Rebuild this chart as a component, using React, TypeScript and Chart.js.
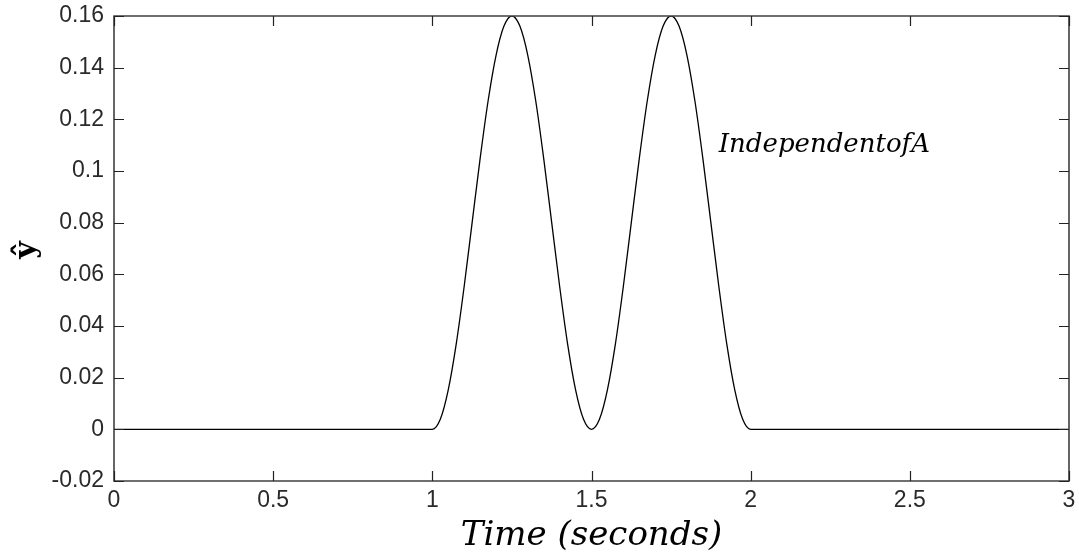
import React, { useEffect, useRef } from "react";
import { Chart, registerables } from "chart.js";

Chart.register(...registerables);

// Time samples (seconds)
const timeValues: number[] = [
  0, 1,
  1.025, 1.05, 1.075, 1.1, 1.125, 1.15, 1.175, 1.2, 1.225, 1.25,
  1.275, 1.3, 1.325, 1.35, 1.375, 1.4, 1.425, 1.45, 1.475, 1.5,
  1.525, 1.55, 1.575, 1.6, 1.625, 1.65, 1.675, 1.7, 1.725, 1.75,
  1.775, 1.8, 1.825, 1.85, 1.875, 1.9, 1.925, 1.95, 1.975, 2,
  3,
];

// y-hat values
const yHatValues: number[] = [
  0, 0,
  0.0039, 0.0153, 0.033, 0.0553, 0.08, 0.1047, 0.127, 0.1447, 0.1561, 0.16,
  0.1561, 0.1447, 0.127, 0.1047, 0.08, 0.0553, 0.033, 0.0153, 0.0039, 0,
  0.0039, 0.0153, 0.033, 0.0553, 0.08, 0.1047, 0.127, 0.1447, 0.1561, 0.16,
  0.1561, 0.1447, 0.127, 0.1047, 0.08, 0.0553, 0.033, 0.0153, 0.0039, 0,
  0,
];

const xTickValues: number[] = [0, 0.5, 1, 1.5, 2, 2.5, 3];
const yTickValues: number[] = [-0.02, 0, 0.02, 0.04, 0.06, 0.08, 0.1, 0.12, 0.14, 0.16];

const xAxisTitle = "Time (seconds)";
const yAxisTitle = "ŷ";
const annotationText = "IndependentofA";
const annotationX = 1.9;
const annotationY = 0.11;

const framePlugin = {
  id: "matlabFrame",
  afterDraw(chart: any) {
    const { ctx, chartArea } = chart;
    const xs = chart.scales.x;
    const ys = chart.scales.y;
    const { left, right, top, bottom } = chartArea;
    ctx.save();
    ctx.strokeStyle = "#404040";
    ctx.lineWidth = 1.6;
    ctx.beginPath();
    ctx.rect(left, top, right - left, bottom - top);
    ctx.stroke();
    const tl = 10;
    ctx.strokeStyle = "#222";
    ctx.lineWidth = 1.2;
    ctx.beginPath();
    xTickValues.forEach((v) => {
      const px = Math.round(xs.getPixelForValue(v)) + 0.5;
      ctx.moveTo(px, bottom);
      ctx.lineTo(px, bottom - tl);
      ctx.moveTo(px, top);
      ctx.lineTo(px, top + tl);
    });
    yTickValues.forEach((v) => {
      const py = Math.round(ys.getPixelForValue(v)) + 0.5;
      ctx.moveTo(left, py);
      ctx.lineTo(left + tl, py);
      ctx.moveTo(right, py);
      ctx.lineTo(right - tl, py);
    });
    ctx.stroke();

    // axis titles and annotation
    ctx.fillStyle = "#000";
    ctx.textAlign = "center";
    ctx.textBaseline = "middle";
    ctx.font = 'italic 34px "DejaVu Serif"';
    ctx.fillText(xAxisTitle, (left + right) / 2, 536);

    ctx.save();
    ctx.translate(27, 250);
    ctx.rotate(-Math.PI / 2);
    ctx.font = 'bold 30px "DejaVu Serif"';
    ctx.fillText(yAxisTitle, 0, 0);
    ctx.restore();

    ctx.textAlign = "left";
    ctx.font = 'italic 26px "DejaVu Serif"';
    ctx.fillText(annotationText, xs.getPixelForValue(annotationX), ys.getPixelForValue(annotationY));
    ctx.restore();
  },
};

export default function App() {
  const canvasRef = useRef<HTMLCanvasElement | null>(null);

  useEffect(() => {
    if (!canvasRef.current) return;
    const points = timeValues.map((t, i) => ({ x: t, y: yHatValues[i] }));
    const chart = new Chart(canvasRef.current, {
      type: "line",
      data: {
        datasets: [
          {
            data: points,
            borderColor: "#000",
            borderWidth: 1.3,
            pointRadius: 0,
            fill: false,
            cubicInterpolationMode: "monotone",
          },
        ],
      },
      options: {
        animation: false,
        responsive: true,
        maintainAspectRatio: false,
        layout: { padding: { left: 0, top: 16, right: 10, bottom: 0 } },
        plugins: {
          legend: { display: false },
          tooltip: { enabled: false },
          title: { display: false },
        },
        scales: {
          x: {
            type: "linear",
            min: 0,
            max: 3,
            grid: { display: false, drawTicks: false },
            border: { display: false },
            afterFit: (s: any) => {
              s.height = 78;
              s.paddingLeft = 0;
              s.paddingRight = 0;
            },
            afterBuildTicks: (s: any) => {
              s.ticks = xTickValues.map((v) => ({ value: v }));
            },
            ticks: {
              padding: 6,
              color: "#2a2a2a",
              font: { family: '"Liberation Sans", Arial', size: 23 },
              maxRotation: 0,
              callback: (v: any) => String(Number(Number(v).toFixed(2))),
            },
          },
          y: {
            type: "linear",
            min: -0.02,
            max: 0.16,
            grid: { display: false, drawTicks: false },
            border: { display: false },
            afterFit: (s: any) => {
              s.width = 114;
              s.paddingTop = 0;
              s.paddingBottom = 0;
            },
            afterBuildTicks: (s: any) => {
              s.ticks = yTickValues.map((v) => ({ value: v }));
            },
            ticks: {
              padding: 10,
              color: "#2a2a2a",
              font: { family: '"Liberation Sans", Arial', size: 23 },
              callback: (v: any) => String(Number(Number(v).toFixed(2))),
            },
          },
        },
      },
      plugins: [framePlugin],
    });
    return () => chart.destroy();
  }, []);

  return (
    <div style={{ position: "absolute", left: 0, top: 0, width: 1079, height: 559, background: "#fff" }}>
      <canvas ref={canvasRef} />
    </div>
  );
}
